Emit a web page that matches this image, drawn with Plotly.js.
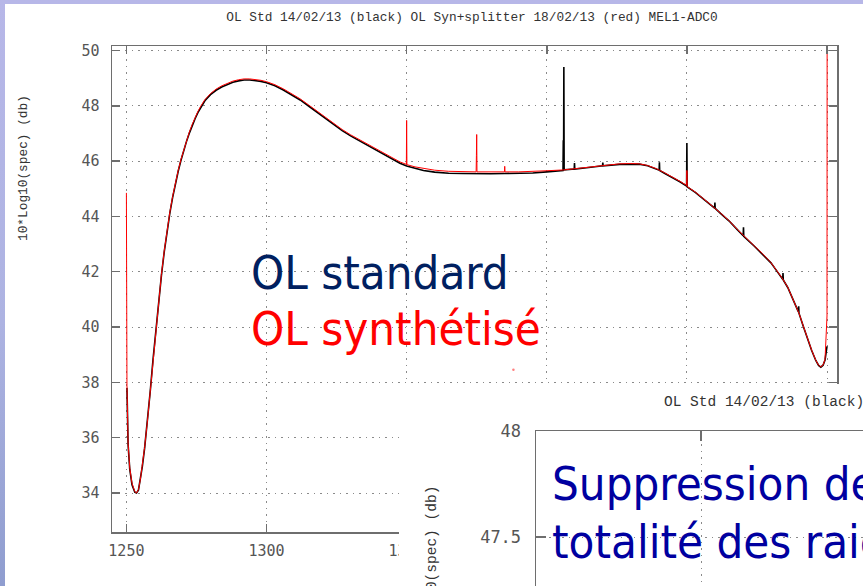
<!DOCTYPE html>
<html><head><meta charset="utf-8">
<script src="https://cdn.plot.ly/plotly-3.0.1.min.js"></script>
<style>
html,body{margin:0;padding:0;width:863px;height:586px;overflow:hidden;
background:linear-gradient(to bottom,#b7b7e8 0%,#adb3e2 55%,#8f9dcf 100%);}
#main{position:absolute;left:5px;top:4px;width:858px;height:582px;}
#inset{position:absolute;left:399px;top:384px;width:700px;height:425px;}
</style></head><body>
<div id="main"></div><div id="inset"></div>
<script>
// ---------- data ----------
const xTicks = [1250, 1300, 1350, 1400, 1450, 1500];
const xTickText = ['1250', '1300', '1350', '', '', ''];
const yTicks = [34, 36, 38, 40, 42, 44, 46, 48, 50];

// OL Std 14/02/13 (black)
const stdX = [1250.2,1250.6,1251.2,1252,1253,1253.6,1254.3,1255,1255.7,1256.5,1257.5,1258.5,1259.5,1260.5,1261.5,1262.5,1263.5,1264.5,1265.5,1266.5,1267.5,1268.5,1269.5,1270.5,1271.5,1272.5,1273.5,1274.5,1275.5,1276.5,1278,1280,1282,1284,1286,1288,1290,1292,1294,1296,1298,1300,1303,1306,1309,1312,1315,1318,1321,1324,1327,1330,1333,1336,1339,1342,1345,1347.6,1350,1353,1356,1360,1365,1370,1375,1380,1385,1390,1395,1400,1405.8,1405.9,1406,1406.1,1406.2,1409.8,1409.9,1410,1415,1419.9,1420,1420.1,1426,1430,1433,1436,1440.1,1440.2,1440.3,1442,1445,1447.5,1449.9,1450,1450.1,1453,1456,1459.9,1460,1460.1,1462,1465,1468,1470.1,1470.2,1470.3,1474,1477,1480,1482,1484.2,1484.3,1484.4,1486,1488,1489.8,1489.9,1490,1491.5,1493,1494.5,1496,1497,1497.8,1498.6,1499.3,1500];
const stdY = [37.8,35.75,34.85,34.3,34.03,34.0,34.1,34.47,34.97,35.62,36.57,37.67,38.82,39.92,40.92,41.87,42.72,43.47,44.12,44.69,45.19,45.64,46.04,46.4,46.73,47.02,47.29,47.53,47.75,47.94,48.18,48.4,48.56,48.68,48.78,48.85,48.9,48.93,48.93,48.91,48.88,48.83,48.72,48.57,48.4,48.21,47.99,47.76,47.53,47.31,47.1,46.91,46.74,46.57,46.4,46.23,46.06,45.92,45.82,45.73,45.66,45.6,45.56,45.55,45.54,45.54,45.55,45.55,45.57,45.61,45.66,46.75,45.68,49.4,45.68,45.71,45.93,45.71,45.77,45.83,45.95,45.83,45.88,45.9,45.89,45.83,45.67,45.96,45.66,45.56,45.4,45.25,45.1,46.65,45.07,44.87,44.63,44.3,44.5,44.29,44.11,43.84,43.52,43.3,43.61,43.28,42.93,42.64,42.32,42.04,41.73,41.95,41.7,41.43,40.99,40.55,40.75,40.5,40.04,39.59,39.16,38.79,38.61,38.55,38.62,38.81,39.3];

// OL Syn+splitter 18/02/13 (red)
const synX = [1250,1250.2,1250.6,1251.2,1252,1253,1253.6,1254.3,1255,1255.7,1256.5,1257.5,1258.5,1259.5,1260.5,1261.5,1262.5,1263.5,1264.5,1265.5,1266.5,1267.5,1268.5,1269.5,1270.5,1271.5,1272.5,1273.5,1274.5,1275.5,1276.5,1278,1280,1282,1284,1286,1288,1290,1292,1294,1296,1298,1300,1303,1306,1309,1312,1315,1318,1321,1324,1327,1330,1333,1336,1339,1342,1345,1347.6,1349.9,1350,1350.1,1353,1356,1360,1365,1370,1374.8,1374.9,1375,1375.1,1380,1384.9,1385,1385.1,1390,1395,1400,1406,1412,1418,1422,1426,1430,1433,1436,1439,1442,1445,1447.5,1449.9,1450,1450.1,1453,1456,1459,1462,1465,1468,1471,1474,1477,1480,1482,1484,1486,1488,1490,1491.5,1493,1494.5,1496,1497,1497.8,1498.6,1499.3,1500,1500.05];
const synY = [44.85,37.9,35.8,34.9,34.35,34.05,34.0,34.12,34.5,35.0,35.65,36.6,37.7,38.85,39.95,40.95,41.9,42.75,43.5,44.15,44.72,45.22,45.67,46.07,46.43,46.76,47.06,47.33,47.57,47.79,47.98,48.22,48.44,48.6,48.72,48.82,48.89,48.94,48.97,48.97,48.95,48.92,48.87,48.76,48.61,48.44,48.25,48.03,47.8,47.57,47.35,47.14,46.95,46.78,46.61,46.44,46.27,46.1,45.97,45.88,47.47,45.87,45.79,45.73,45.67,45.63,45.62,45.61,46.2,46.96,45.61,45.61,45.61,45.81,45.61,45.61,45.62,45.65,45.68,45.74,45.82,45.86,45.9,45.91,45.9,45.84,45.73,45.58,45.42,45.27,45.12,45.66,45.08,44.88,44.64,44.38,44.12,43.85,43.53,43.22,42.94,42.65,42.33,42.05,41.77,41.44,41.0,40.5,40.05,39.6,39.17,38.8,38.62,38.56,38.63,38.82,40.4,51];
const synDotX = [1388.1];
const synDotY = [38.46];

const titleText = 'OL Std 14/02/13 (black) OL Syn+splitter 18/02/13 (red) MEL1-ADC0';
const yLabel = '10*Log10(spec) (db)';
const noteStd = 'OL standard';
const noteSyn = 'OL synthétisé';
const noteInset1 = 'Suppression de la';
const noteInset2 = 'totalité des raies';

// inset axes
const insetYTicks = [47.5, 48];
const insetXTicks = [1350, 1360, 1370];

// ---------- main chart ----------
const W = 858, H = 582, M = {l:107, r:26, t:42, b:54};
const pw = W - M.l - M.r, ph = H - M.t - M.b;
const ox = 5 + M.l, oy = 4 + M.t;
const pX = px => (px - ox) / pw;
const pY = py => (oy + ph - py) / ph;

const mono = 'Liberation Mono, DejaVu Sans Mono, monospace';
const tickFont = {family:'DejaVu Sans Mono, monospace', size:15, color:'#555'};
const bigFont = 'DejaVu Sans Condensed, DejaVu Sans, sans-serif';

function axisStyle(extra){
  return Object.assign({
    showgrid:true, gridcolor:'#8a8a8a', gridwidth:1, griddash:'1.5px,5px',
    zeroline:false, showline:true, linecolor:'#6e6e6e', linewidth:1.5,
    mirror:'ticks', ticks:'inside', ticklen:8, tickwidth:1.5, tickcolor:'#6e6e6e',
    tickfont:tickFont, tickmode:'array'
  }, extra);
}

const traces = [
  {x:stdX, y:stdY, type:'scatter', mode:'lines', line:{color:'#000000', width:1.6}, name:'OL Std'},
  {x:synX, y:synY, type:'scatter', mode:'lines', line:{color:'#ff0000', width:1}, name:'OL Syn'},
  {x:synDotX, y:synDotY, type:'scatter', mode:'markers', marker:{color:'#ff8080', size:2.5}, name:'dot'}
];

const layout = {
  width:W, height:H, margin:M, showlegend:false,
  paper_bgcolor:'#ffffff', plot_bgcolor:'#ffffff',
  title:{text:titleText, font:{family:mono, size:12.8, color:'#333'},
         x:pX(472), xref:'paper', xanchor:'center', y:1-13/H, yref:'container', yanchor:'middle'},
  xaxis: axisStyle({range:[1244.86, 1503.57], tickvals:xTicks, ticktext:xTickText, ticklabelstandoff:4}),
  yaxis: axisStyle({range:[32.59, 50.16], tickvals:yTicks, ticklabelstandoff:8}),
  annotations:[
    {text:yLabel, textangle:-90, xref:'paper', yref:'paper', x:pX(23), y:pY(168),
     xanchor:'center', yanchor:'middle', showarrow:false, font:{family:mono, size:12.8, color:'#333'}},
    {text:noteStd, xref:'paper', yref:'paper', x:pX(249), y:pY(272), xanchor:'left', yanchor:'middle',
     showarrow:false, font:{family:bigFont, size:47, color:'#002060'}},
    {text:noteSyn, xref:'paper', yref:'paper', x:pX(249), y:pY(328), xanchor:'left', yanchor:'middle',
     showarrow:false, font:{family:bigFont, size:47, color:'#ff0000'}}
  ]
};
Plotly.newPlot('main', traces, layout, {staticPlot:true, displayModeBar:false});

// ---------- inset chart ----------
const IW = 700, IH = 425, IM = {l:137, r:40, t:47, b:60};
const ipw = IW - IM.l - IM.r, iph = IH - IM.t - IM.b;
const iox = 399 + IM.l, ioy = 384 + IM.t;
const iX = px => (px - iox) / ipw;
const iY = py => (ioy + iph - py) / iph;
const insetTick = {family:'DejaVu Sans Mono, monospace', size:17, color:'#555'};

const insetLayout = {
  width:IW, height:IH, margin:IM, showlegend:false,
  paper_bgcolor:'#ffffff', plot_bgcolor:'#ffffff',
  xaxis: axisStyle({range:[1340, 1340 + ipw/16.5], tickvals:insetXTicks, showticklabels:false, ticklen:10}),
  yaxis: axisStyle({range:[46.5, 48], tickvals:insetYTicks, tickfont:insetTick, ticklen:10, ticklabelstandoff:10}),
  annotations:[
    {text:titleText, xref:'paper', yref:'paper', x:iX(662), y:iY(402), xanchor:'left', yanchor:'middle',
     showarrow:false, font:{family:mono, size:14.5, color:'#333'}},
    {text:yLabel, textangle:-90, xref:'paper', yref:'paper', x:iX(432), y:iY(569),
     xanchor:'center', yanchor:'middle', showarrow:false, font:{family:mono, size:14.5, color:'#333'}},
    {text:noteInset1, xref:'paper', yref:'paper', x:iX(550), y:iY(484), xanchor:'left', yanchor:'middle',
     showarrow:false, font:{family:bigFont, size:47, color:'#0000a0'}},
    {text:noteInset2, xref:'paper', yref:'paper', x:iX(550), y:iY(541), xanchor:'left', yanchor:'middle',
     showarrow:false, font:{family:bigFont, size:47, color:'#0000a0'}}
  ]
};
Plotly.newPlot('inset', [], insetLayout, {staticPlot:true, displayModeBar:false});
</script></body></html>
